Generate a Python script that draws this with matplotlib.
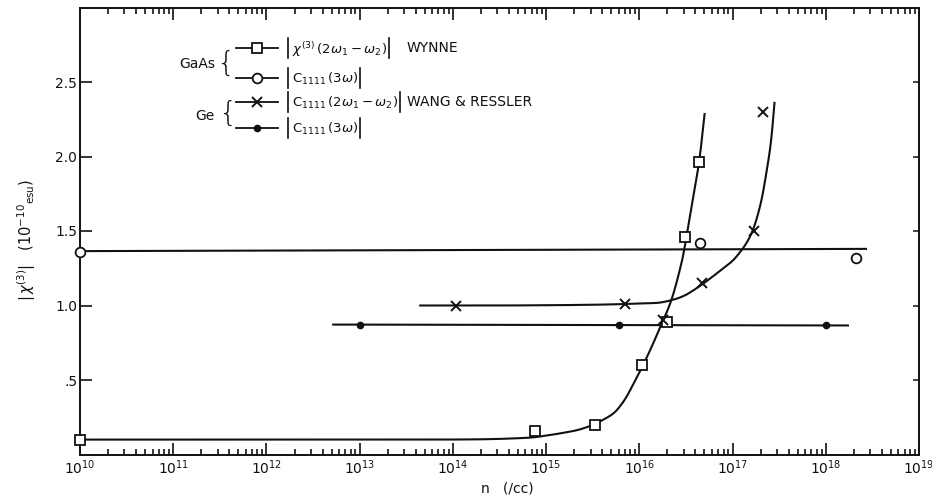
import numpy as np
import matplotlib
matplotlib.use("Agg")
import matplotlib.pyplot as plt
from matplotlib.lines import Line2D
from matplotlib.ticker import LogLocator, LogFormatterSciNotation, NullFormatter

plt.rcParams['font.family'] = ['DejaVu Sans']
plt.rcParams['mathtext.fontset'] = 'dejavusans'

# ---------------- data ----------------
# GaAs |chi(3)(2w1-w2)|  (Wynne)  - squares
gaas_mix_n = [1e10, 7.6e14, 3.35e15, 1.08e16, 2.0e16, 3.1e16, 4.4e16]
gaas_mix_y = [0.10, 0.16, 0.20, 0.60, 0.89, 1.46, 1.96]
# GaAs |C1111(3w)| - circles
gaas_thg_n = [1e10, 4.5e16, 2.1e18]
gaas_thg_y = [1.36, 1.42, 1.32]
# Ge |C1111(2w1-w2)| (Wang & Ressler) - crosses
ge_mix_n = [1.07e14, 7.0e15, 1.78e16, 4.65e16, 1.68e17, 2.14e17]
ge_mix_y = [1.00, 1.01, 0.90, 1.15, 1.50, 2.30]
# Ge |C1111(3w)| - dots
ge_thg_n = [1e13, 6e15, 1e18]
ge_thg_y = [0.87, 0.87, 0.87]

# hand-drawn guide curves (log10 n, value)
gaas_mix_curve_exp = [10.0, 13.0, 14.3, 14.65, 14.86, 15.0, 15.18, 15.36, 15.52,
                      15.72, 15.80, 15.86, 15.95, 16.04, 16.13, 16.21, 16.34,
                      16.45, 16.48, 16.57, 16.64, 16.70]
gaas_mix_curve_y = [0.10, 0.10, 0.102, 0.108, 0.115, 0.127, 0.145, 0.168, 0.205,
                    0.275, 0.33, 0.385, 0.49, 0.60, 0.72, 0.835, 1.03,
                    1.28, 1.37, 1.70, 1.96, 2.285]
ge_mix_curve_exp = [13.65, 14.5, 15.5, 15.85, 16.07, 16.2, 16.27, 16.34, 16.42,
                    16.51, 16.67, 16.85, 17.0, 17.07, 17.15, 17.22, 17.30,
                    17.36, 17.41, 17.45]
ge_mix_curve_y = [1.00, 1.0, 1.005, 1.01, 1.015, 1.018, 1.025, 1.035, 1.05,
                  1.075, 1.14, 1.225, 1.30, 1.35, 1.42, 1.51, 1.68,
                  1.88, 2.09, 2.36]
gaas_thg_line_n = [1e10, 2.7e18]
gaas_thg_line_y = [1.365, 1.38]
ge_thg_line_n = [5.2e12, 1.73e18]
ge_thg_line_y = [0.872, 0.866]

yticks = [0.5, 1.0, 1.5, 2.0, 2.5]
ytick_labels = ['.5', '1.0', '1.5', '2.0', '2.5']

legend_labels = [
    r'$\chi^{(3)}\,(2\omega_1 - \omega_2)$',
    r'$\mathrm{C}_{1111}\,(3\omega)$',
    r'$\mathrm{C}_{1111}\,(2\omega_1 - \omega_2)$',
    r'$\mathrm{C}_{1111}\,(3\omega)$',
]
authors = ['WYNNE', None, 'WANG & RESSLER', None]
groups = ['GaAs', 'Ge']


def smooth_curve(exps, ys, sx=93.2, sy=149.0, nseg=24):
    """Centripetal Catmull-Rom rendering of a hand-drawn guide line."""
    P = np.column_stack([(np.asarray(exps) - 10) * sx, np.asarray(ys) * sy])
    P = np.vstack([2 * P[0] - P[1], P, 2 * P[-1] - P[-2]])
    out = [P[1]]
    for i in range(1, len(P) - 2):
        p0, p1, p2, p3 = P[i - 1], P[i], P[i + 1], P[i + 2]
        t0 = 0.0
        t1 = t0 + np.linalg.norm(p1 - p0) ** 0.5 + 1e-9
        t2 = t1 + np.linalg.norm(p2 - p1) ** 0.5 + 1e-9
        t3 = t2 + np.linalg.norm(p3 - p2) ** 0.5 + 1e-9
        for t in np.linspace(t1, t2, nseg)[1:]:
            a1 = (t1 - t) / (t1 - t0) * p0 + (t - t0) / (t1 - t0) * p1
            a2 = (t2 - t) / (t2 - t1) * p1 + (t - t1) / (t2 - t1) * p2
            a3 = (t3 - t) / (t3 - t2) * p2 + (t - t2) / (t3 - t2) * p3
            b1 = (t2 - t) / (t2 - t0) * a1 + (t - t0) / (t2 - t0) * a2
            b2 = (t3 - t) / (t3 - t1) * a2 + (t - t1) / (t3 - t1) * a3
            c = (t2 - t) / (t2 - t1) * b1 + (t - t1) / (t2 - t1) * b2
            out.append(c)
    out = np.array(out)
    return 10 ** (out[:, 0] / sx + 10), out[:, 1] / sy


# ---------------- figure ----------------
W, H = 932, 495
fig = plt.figure(figsize=(W / 100, H / 100), dpi=100)
fig.patch.set_facecolor('white')


def fx(px):
    return px / W


def fy(py):
    return 1 - py / H


ax = fig.add_axes([fx(80), fy(454.5), (919 - 80) / W, 447 / H])
K = '#111111'
LW = 1.5

ax.set_xscale('log')
ax.set_xlim(1e10, 1e19)
ax.set_ylim(0, 3.0)

# curves
cx, cy = smooth_curve(gaas_mix_curve_exp, gaas_mix_curve_y)
ax.plot(cx, cy, color=K, lw=LW)
cx, cy = smooth_curve(ge_mix_curve_exp, ge_mix_curve_y)
ax.plot(cx, cy, color=K, lw=LW)
ax.plot(gaas_thg_line_n, gaas_thg_line_y, color=K, lw=LW)
ax.plot(ge_thg_line_n, ge_thg_line_y, color=K, lw=LW)

# markers
styles = [
    dict(marker='s', ms=6.5, mfc='white', mec=K, mew=1.3),
    dict(marker='o', ms=7, mfc='white', mec=K, mew=1.3),
    dict(marker='x', ms=6.5, mec=K, mew=1.4),
    dict(marker='o', ms=4.5, mfc=K, mec=K),
]
series = [(gaas_mix_n, gaas_mix_y), (gaas_thg_n, gaas_thg_y),
          (ge_mix_n, ge_mix_y), (ge_thg_n, ge_thg_y)]
for (sn, sv), st in zip(series, styles):
    ax.plot(sn, sv, ls='none', clip_on=False, zorder=5, **st)

# spines and ticks
for s in ax.spines.values():
    s.set_linewidth(1.4)
    s.set_color(K)

ax.xaxis.set_major_locator(LogLocator(base=10, numticks=20))
ax.xaxis.set_minor_locator(LogLocator(base=10, subs=np.arange(2, 10), numticks=200))
ax.xaxis.set_major_formatter(LogFormatterSciNotation())
ax.xaxis.set_minor_formatter(NullFormatter())
ax.tick_params(axis='x', which='major', direction='in', length=8.5, width=1.2,
               top=True, bottom=True, pad=3, labelsize=10, colors=K)
ax.tick_params(axis='x', which='minor', direction='in', length=4.3, width=1.1,
               top=True, bottom=True)

ax.set_yticks(yticks)
ax.set_yticklabels(ytick_labels)
ax.tick_params(axis='y', which='major', direction='in', length=8.5, width=1.2,
               left=True, right=False, pad=2, labelsize=10, colors=K)

ax2 = ax.twinx()
ax2.set_ylim(ax.get_ylim())
ax2.set_yticks(yticks)
ax2.set_yticklabels([])
ax2.tick_params(axis='y', direction='in', length=4.3, width=1.1, colors=K)
for s in ax2.spines.values():
    s.set_visible(False)

# axis labels
fig.text(fx(507), fy(489), 'n   (/cc)', ha='center', va='center', fontsize=10, color=K)
fig.text(fx(27), fy(240), r'$|\,\chi^{(3)}|$   $(10^{-10}{}_{\mathrm{esu}})$',
         rotation=90, ha='center', va='center', fontsize=10.5, color=K)

# ---------------- hand-made legend ----------------
rows_y = [48.3, 78.3, 101.7, 128.3]
line_x0, line_x1, mark_x = 236, 278, 257
renderer = fig.canvas.get_renderer()
for ry, st, lab, auth in zip(rows_y, styles, legend_labels, authors):
    fig.add_artist(Line2D([fx(line_x0), fx(line_x1)], [fy(ry), fy(ry)],
                          transform=fig.transFigure, color=K, lw=1.3))
    fig.add_artist(Line2D([fx(mark_x)], [fy(ry)], transform=fig.transFigure,
                          ls='none', **st))
    # left bar
    fig.add_artist(Line2D([fx(288), fx(288)], [fy(ry - 10), fy(ry + 10)],
                          transform=fig.transFigure, color=K, lw=1.2))
    t = fig.text(fx(292), fy(ry + 1), lab, ha='left', va='center', fontsize=9.5,
                 color=K)
    bb = t.get_window_extent(renderer)
    xr = bb.x1 * 100 / fig.dpi + 2
    fig.add_artist(Line2D([fx(xr), fx(xr)], [fy(ry - 10), fy(ry + 10)],
                          transform=fig.transFigure, color=K, lw=1.2))
    if auth:
        fig.text(fx(407), fy(ry), auth, ha='left', va='center', fontsize=10, color=K)

fig.text(fx(197), fy(64), groups[0], ha='center', va='center', fontsize=10, color=K)
fig.text(fx(205), fy(116), groups[1], ha='center', va='center', fontsize=10, color=K)
fig.text(fx(225), fy(64), '{', ha='center', va='center', fontsize=21, color=K,
         fontweight='light')
fig.text(fx(227), fy(114), '{', ha='center', va='center', fontsize=21, color=K,
         fontweight='light')

fig.savefig('out.png', dpi=100, facecolor='white')
